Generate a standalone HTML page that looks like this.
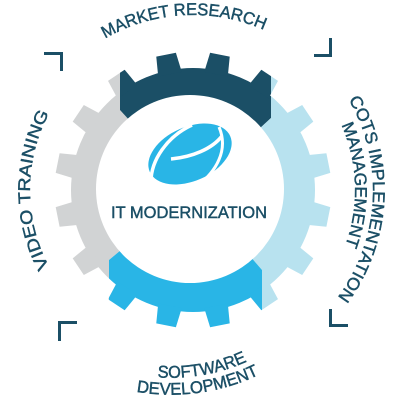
<!DOCTYPE html>
<html><head><meta charset="utf-8"><style>
html,body{margin:0;padding:0;background:#fff;}
svg{display:block;}
text{font-family:"Liberation Sans",sans-serif;fill:#1b4f66;font-size:17px;stroke:#1b4f66;stroke-width:0.45;}
</style></head><body>
<svg width="402" height="402" viewBox="0 0 402 402" xmlns="http://www.w3.org/2000/svg">
<defs>
<g id="gear">
<circle cx="193" cy="190" r="122"/>
<g transform="translate(193,190)">
<path id="tooth" d="M-12,-118 L-10,-138 L10,-138 L12,-118 Z" transform="rotate(11.25)"/>
<path d="M-12,-118 L-10,-138 L10,-138 L12,-118 Z" transform="rotate(33.75)"/>
<path d="M-12,-118 L-10,-138 L10,-138 L12,-118 Z" transform="rotate(56.25)"/>
<path d="M-12,-118 L-10,-138 L10,-138 L12,-118 Z" transform="rotate(78.75)"/>
<path d="M-12,-118 L-10,-138 L10,-138 L12,-118 Z" transform="rotate(101.25)"/>
<path d="M-12,-118 L-10,-138 L10,-138 L12,-118 Z" transform="rotate(123.75)"/>
<path d="M-12,-118 L-10,-138 L10,-138 L12,-118 Z" transform="rotate(146.25)"/>
<path d="M-12,-118 L-10,-138 L10,-138 L12,-118 Z" transform="rotate(168.75)"/>
<path d="M-12,-118 L-10,-138 L10,-138 L12,-118 Z" transform="rotate(191.25)"/>
<path d="M-12,-118 L-10,-138 L10,-138 L12,-118 Z" transform="rotate(213.75)"/>
<path d="M-12,-118 L-10,-138 L10,-138 L12,-118 Z" transform="rotate(236.25)"/>
<path d="M-12,-118 L-10,-138 L10,-138 L12,-118 Z" transform="rotate(258.75)"/>
<path d="M-12,-118 L-10,-138 L10,-138 L12,-118 Z" transform="rotate(281.25)"/>
<path d="M-12,-118 L-10,-138 L10,-138 L12,-118 Z" transform="rotate(303.75)"/>
<path d="M-12,-118 L-10,-138 L10,-138 L12,-118 Z" transform="rotate(326.25)"/>
<path d="M-12,-118 L-10,-138 L10,-138 L12,-118 Z" transform="rotate(348.75)"/>
</g>
</g>
<clipPath id="cDark"><polygon points="120,0 271,0 271,118 193,190 120,110"/></clipPath>
<clipPath id="cLight"><polygon points="271,0 402,0 402,402 262,402 262,270 193,190 271,118"/></clipPath>
<clipPath id="cBlue"><polygon points="109,402 262,402 262,270 193,190 109,260"/></clipPath>
<clipPath id="cGray"><polygon points="0,0 120,0 120,110 193,190 109,260 109,402 0,402"/></clipPath>
<path id="cw175" d="M193,365 A175,175 0 1 1 193,15 A175,175 0 1 1 193,365"/>
<path id="cwL" d="M193,353 A163,163 0 1 1 193,27 A163,163 0 1 1 193,353"/>
<path id="cwR1" d="M193,370 A180,180 0 1 1 193,10 A180,180 0 1 1 193,370"/>
<path id="cwR2" d="M193,352 A162,162 0 1 1 193,28 A162,162 0 1 1 193,352"/>
<path id="ccw1" d="M171,6.2 A185.8,185.8 0 1 0 171,377.8 A185.8,185.8 0 1 0 171,6.2"/>
<path id="ccw2" d="M171,-10.7 A202.7,202.7 0 1 0 171,394.7 A202.7,202.7 0 1 0 171,-10.7"/>
</defs>
<use href="#gear" fill="#d1d3d4" clip-path="url(#cGray)"/>
<use href="#gear" fill="#1b4f66" clip-path="url(#cDark)"/>
<use href="#gear" fill="#b8e2ef" clip-path="url(#cLight)"/>
<use href="#gear" fill="#29b5e6" clip-path="url(#cBlue)"/>
<circle cx="190" cy="189" r="94" fill="#fff"/>

<!-- logo -->
<g>
<ellipse cx="190" cy="154" rx="44" ry="27" transform="rotate(-24 190 154)" fill="#29b5e6"/>
<path d="M192,125 C168,136 150,160 151,184" stroke="#fff" stroke-width="3.5" fill="none"/>
<path d="M171,159 C192,157 212,149 222,136" stroke="#fff" stroke-width="3.5" fill="none"/>
<path d="M219,127 C229,150 216,172 197,186" stroke="#fff" stroke-width="3" fill="none"/>
</g>
<text x="189" y="218" text-anchor="middle" font-size="16" textLength="156" lengthAdjust="spacingAndGlyphs">IT MODERNIZATION</text>

<!-- brackets -->
<g fill="#1b4f66">
<rect x="44" y="52" width="19" height="3"/><rect x="60" y="52" width="3" height="19"/>
<rect x="329" y="38" width="3" height="19"/><rect x="314" y="54" width="18" height="3"/>
<rect x="58" y="321" width="19" height="3"/><rect x="58" y="321" width="3" height="20"/>
<rect x="329" y="309" width="3" height="18"/><rect x="329" y="324" width="19" height="3"/>
</g>

<!-- labels -->
<text><textPath href="#cw175" startOffset="540" text-anchor="middle" textLength="165" lengthAdjust="spacingAndGlyphs">MARKET RESEARCH</textPath></text>
<text><textPath href="#cwL" startOffset="256" text-anchor="middle" textLength="160" lengthAdjust="spacingAndGlyphs">VIDEO TRAINING</textPath></text>
<text><textPath href="#cwR1" startOffset="858" text-anchor="middle" textLength="210" lengthAdjust="spacingAndGlyphs">COTS IMPLEMENTATION</textPath></text>
<text><textPath href="#cwR2" startOffset="758" text-anchor="middle" textLength="124" lengthAdjust="spacingAndGlyphs">MANAGEMENT</textPath></text>
<text><textPath href="#ccw1" startOffset="616" text-anchor="middle" textLength="92" lengthAdjust="spacingAndGlyphs">SOFTWARE</textPath></text>
<text><textPath href="#ccw2" startOffset="665" text-anchor="middle" textLength="126" lengthAdjust="spacingAndGlyphs">DEVELOPMENT</textPath></text>
</svg>
</body></html>
